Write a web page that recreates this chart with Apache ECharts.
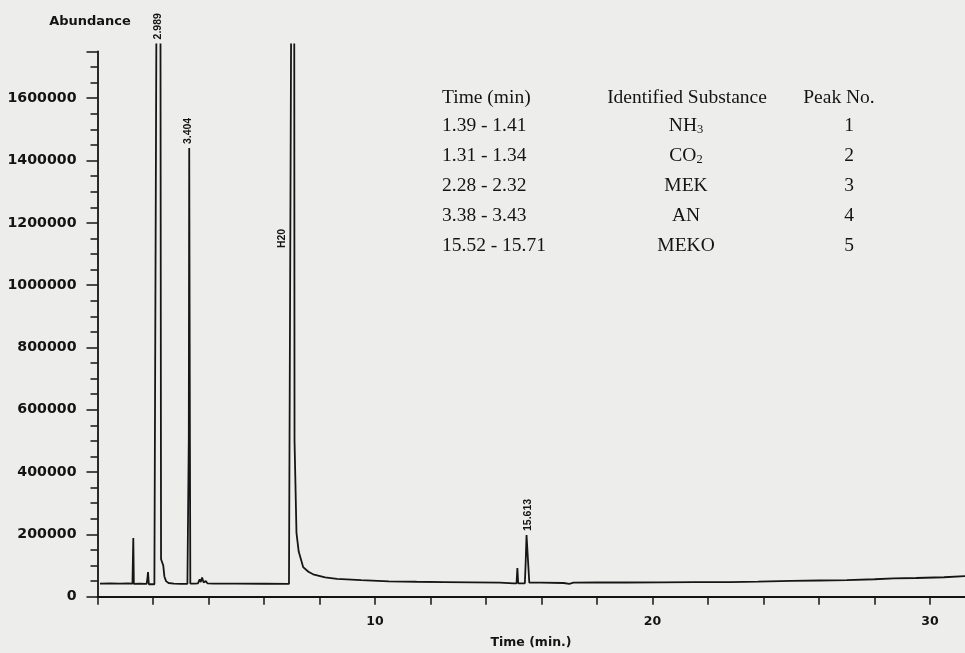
<!DOCTYPE html>
<html><head><meta charset="utf-8">
<script src="https://cdn.jsdelivr.net/npm/echarts@6/dist/echarts.min.js"></script>
<style>html,body{margin:0;padding:0;background:#edeeec}#c{width:965px;height:653px}</style>
</head><body><div id="c"></div>
<script>
// ---- data (time in min, abundance in counts) ----
const timeMin = [
  0.09, 0.45, 0.80, 1.10, 1.26, 1.29, 1.31, 1.50, 1.77, 1.80, 1.82, 1.85, 2.05, 2.10, 2.12,
  2.20,
  2.27, 2.29, 2.33, 2.37, 2.41, 2.47, 2.56, 2.75, 3.00, 3.24, 3.27, 3.29, 3.305, 3.33, 3.345,
  3.50, 3.62, 3.68, 3.72, 3.77, 3.82, 3.90, 3.96, 4.20, 5.00, 6.00, 6.90, 6.97, 6.975,
  7.03,
  7.09, 7.10, 7.125, 7.17, 7.25, 7.41, 7.60, 7.77, 8.20, 8.63, 9.50, 10.50, 11.50, 12.50,
  13.50, 14.50, 15.00, 15.10, 15.13, 15.16, 15.40, 15.43, 15.46, 15.53, 15.56, 16.00, 16.80,
  17.00, 17.15, 18.00, 19.00, 20.30, 21.50, 22.80, 23.80, 25.00, 26.00, 27.00, 28.00, 28.70,
  29.50, 30.50, 31.26
];
const abundance = [
  42000, 43000, 42000, 42500, 42000, 188000, 41000, 41500, 41000, 60000, 79000, 40000, 40000, 39000, 1776000,
  null,
  1776000, 120000, 115000, 100000, 65000, 50000, 44000, 42000, 41000, 41500, 41000, 510000, 1440000, 500000, 42000,
  42000, 43000, 56000, 47000, 62000, 46000, 50000, 43000, 42000, 42000, 41500, 41000, 41000, 1776000,
  null,
  1776000, 500000, 495000, 205000, 145000, 95000, 80000, 72000, 62000, 57000, 53000, 49500, 48000, 47000,
  46000, 45000, 43000, 43000, 92000, 43000, 43000, 112000, 198000, 196000, 45000, 45000, 44000,
  41500, 45000, 45500, 45500, 46000, 46500, 47000, 48500, 50500, 52000, 53500, 56000, 58500,
  60000, 62500, 66000
];
// peak annotations
const peakLabelText  = ['2.989', '3.404', '15.613'];
const peakLabelTime  = [2.17, 3.27, 15.52];
const peakLabelValue = [1776000, 1440000, 198000];
const solventLabelText = 'H20';
const solventLabelTime = 6.65;
const solventLabelValue = 1119000;
// table
const tableHeaders    = ['Time (min)', 'Identified Substance', 'Peak No.'];
const tableTimes      = ['1.39 - 1.41', '1.31 - 1.34', '2.28 - 2.32', '3.38 - 3.43', '15.52 - 15.71'];
const tableSubstances = ['NH3', 'CO2', 'MEK', 'AN', 'MEKO'];
const tablePeakNo     = ['1', '2', '3', '4', '5'];

const INK = '#141414';
const chart = echarts.init(document.getElementById('c'), null, {renderer: 'canvas'});

chart.setOption({
  backgroundColor: '#edeeec',
  animation: false,
  grid: {left: 97.5, right: 0, top: 51.5, bottom: 56.3},
  xAxis: {
    type: 'value', min: 0, max: 31.26, interval: 2,
    axisLine: {lineStyle: {color: INK, width: 1.8}},
    axisTick: {length: 8, lineStyle: {color: INK, width: 1.5}},
    axisLabel: {
      formatter: v => (v > 0 && v % 10 === 0) ? String(v) : '',
      margin: 19, color: INK, fontFamily: 'DejaVu Sans', fontWeight: 'bold', fontSize: 12.5,
      showMaxLabel: false
    },
    splitLine: {show: false}
  },
  yAxis: [{
    type: 'value', min: 0, max: 1750000, interval: 50000,
    axisLine: {show: true, lineStyle: {color: INK, width: 1.8}},
    axisTick: {show: true, length: 7, lineStyle: {color: INK, width: 1.5}},
    axisLabel: {
      formatter: v => (v % 200000 === 0) ? String(v) : '',
      margin: 21, color: INK, fontFamily: 'DejaVu Sans', fontWeight: 'bold', fontSize: 14.2
    },
    splitLine: {show: false}
  }, {
    type: 'value', min: 0, max: 1750000, interval: 200000, position: 'left',
    axisLine: {show: false},
    axisTick: {show: true, length: 11, lineStyle: {color: INK, width: 1.5}},
    axisLabel: {show: false},
    splitLine: {show: false}
  }],
  series: [{
    type: 'line',
    data: timeMin.map((t, i) => [t, abundance[i]]),
    symbol: 'none', showSymbol: false, clip: false, connectNulls: false,
    lineStyle: {color: '#161616', width: 1.8}
  }]
});

const graphics = [];
graphics.push({type: 'text', x: 90, y: 21.5,
  style: {text: 'Abundance', font: 'bold 13px "DejaVu Sans"', fill: INK, align: 'center', verticalAlign: 'middle'}});
graphics.push({type: 'text', x: 531, y: 643,
  style: {text: 'Time (min.)', font: 'bold 12.5px "DejaVu Sans"', fill: INK, align: 'center', verticalAlign: 'middle'}});

// peak labels (rotated, reading upward)
peakLabelText.forEach((txt, i) => {
  const p = chart.convertToPixel({xAxisIndex: 0, yAxisIndex: 0}, [peakLabelTime[i], peakLabelValue[i]]);
  graphics.push({type: 'text', x: p[0], y: p[1] - 4, rotation: Math.PI / 2,
    style: {text: txt, font: 'bold 10.5px "Liberation Sans"', fill: INK, align: 'left', verticalAlign: 'middle'}});
});
{
  const p = chart.convertToPixel({xAxisIndex: 0, yAxisIndex: 0}, [solventLabelTime, solventLabelValue]);
  graphics.push({type: 'text', x: p[0], y: p[1], rotation: Math.PI / 2,
    style: {text: solventLabelText, font: 'bold 10.5px "Liberation Sans"', fill: INK, align: 'left', verticalAlign: 'middle'}});
}

// table
const SERIF = '19.5px "Liberation Serif"';
const colTimeX = 442, colSubX = 686, colNoX = 849, headY = 98, rowY0 = 126, rowStep = 30;
graphics.push({type: 'text', x: colTimeX, y: headY, style: {text: tableHeaders[0], font: SERIF, fill: INK, align: 'left', verticalAlign: 'middle'}});
graphics.push({type: 'text', x: 687, y: headY, style: {text: tableHeaders[1], font: SERIF, fill: INK, align: 'center', verticalAlign: 'middle'}});
graphics.push({type: 'text', x: 839, y: headY, style: {text: tableHeaders[2], font: SERIF, fill: INK, align: 'center', verticalAlign: 'middle'}});
tableTimes.forEach((t, i) => {
  const y = rowY0 + i * rowStep;
  graphics.push({type: 'text', x: colTimeX, y, style: {text: t, font: SERIF, fill: INK, align: 'left', verticalAlign: 'middle'}});
  const sub = tableSubstances[i];
  const m = sub.match(/^(.*?)(\d)$/);
  const style = m
    ? {text: '{m|' + m[1] + '}{s|' + m[2] + '}', align: 'center', verticalAlign: 'middle',
       rich: {m: {fontFamily: 'Liberation Serif', fontSize: 19.5, fill: INK, verticalAlign: 'bottom'},
              s: {fontFamily: 'Liberation Serif', fontSize: 12.5, fill: INK, verticalAlign: 'bottom'}}}
    : {text: sub, font: SERIF, fill: INK, align: 'center', verticalAlign: 'middle'};
  graphics.push({type: 'text', x: colSubX, y, style});
  graphics.push({type: 'text', x: colNoX, y, style: {text: tablePeakNo[i], font: SERIF, fill: INK, align: 'center', verticalAlign: 'middle'}});
});

chart.setOption({graphic: {elements: graphics}});
</script></body></html>
